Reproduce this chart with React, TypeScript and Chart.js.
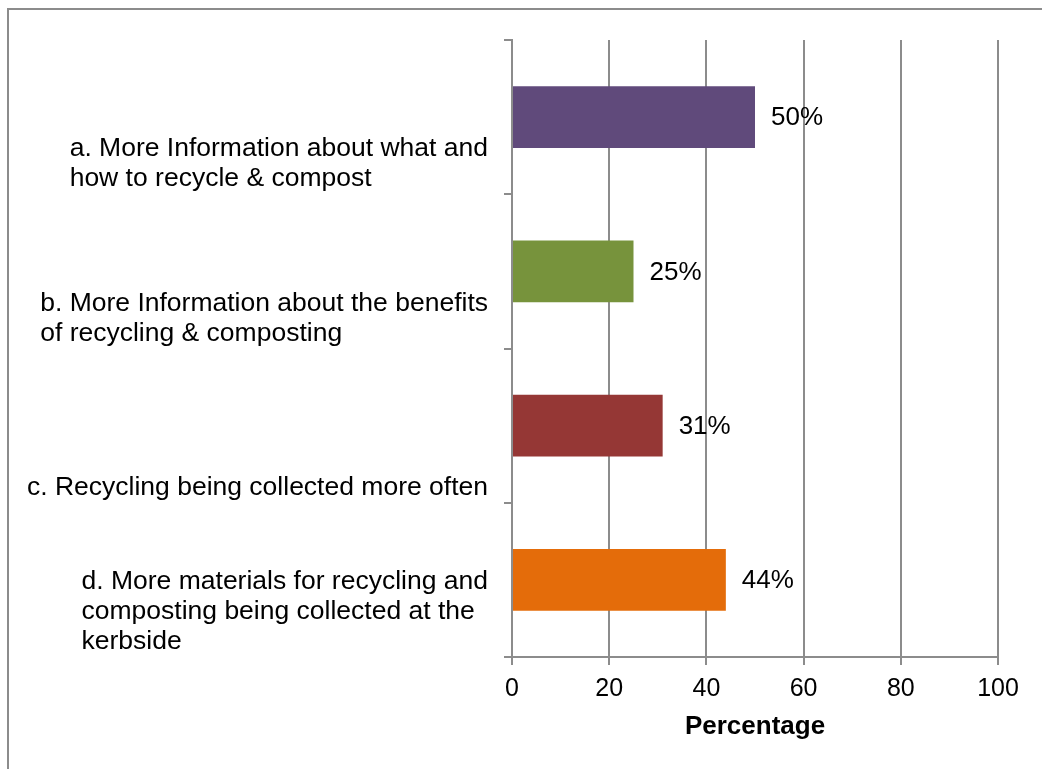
import React, { useEffect, useRef } from "react";
import { Chart, registerables } from "chart.js";

Chart.register(...registerables);

const categories: string[][] = [
  ["a. More Information about what and", "how to recycle & compost"],
  ["b. More Information about the benefits", "of recycling & composting"],
  ["c. Recycling being collected more often"],
  ["d. More materials for recycling and", "composting being collected at the", "kerbside"],
];
const values: number[] = [50, 25, 31, 44];
const barColors: string[] = ["#604A7B", "#77933C", "#953735", "#E46C0A"];
const xTicks: number[] = [0, 20, 40, 60, 80, 100];
const xTitle = "Percentage";

const FONT = "'Liberation Sans', Arial, sans-serif";
const GRID = "#8c8c8c";

const labelPlugin = {
  id: "customLabels",
  afterDraw(chart: any) {
    const ctx = chart.ctx;
    const y = chart.scales.y;
    const area = chart.chartArea;
    ctx.save();
    ctx.fillStyle = "#000";
    ctx.font = `26.5px ${FONT}`;
    ctx.textBaseline = "alphabetic";
    ctx.textAlign = "left";
    const labels = chart.data.labels as string[][];
    const half = (y.getPixelForValue(1) - y.getPixelForValue(0)) / 2;
    labels.forEach((lines, i) => {
      const bottom = y.getPixelForValue(i) + half;
      const maxW = Math.max(...lines.map((l) => ctx.measureText(l).width));
      const left = area.left - 24 - maxW;
      const lastBase = bottom - 8;
      lines.forEach((l, j) => {
        ctx.fillText(l, left, lastBase - 30 * (lines.length - 1 - j));
      });
    });
    // bar value labels
    ctx.font = `26px ${FONT}`;
    const meta = chart.getDatasetMeta(0);
    ctx.textBaseline = "middle";
    meta.data.forEach((bar: any, i: number) => {
      const v = chart.data.datasets[0].data[i];
      ctx.fillText(`${v}%`, bar.x + 16, bar.y + 1);
    });
    ctx.restore();
  },
};

export default function App() {
  const ref = useRef<HTMLCanvasElement>(null);
  useEffect(() => {
    if (!ref.current) return;
    const chart = new Chart(ref.current, {
      type: "bar",
      data: {
        labels: categories as any,
        datasets: [
          {
            data: values,
            backgroundColor: barColors,
            borderWidth: 0,
            categoryPercentage: 1,
            barPercentage: 0.4,
          },
        ],
      },
      options: {
        indexAxis: "y",
        animation: false,
        responsive: false,
        devicePixelRatio: 1,
        layout: { padding: { top: 40, right: 44, left: 0, bottom: 27 } },
        plugins: {
          legend: { display: false },
          tooltip: { enabled: false },
          title: { display: false },
        },
        scales: {
          x: {
            type: "linear",
            min: 0,
            max: 100,
            afterBuildTicks(scale: any) {
              scale.ticks = xTicks.map((v) => ({ value: v }));
            },
            afterFit(scale: any) {
              scale.height = 85;
            },
            grid: {
              color: GRID,
              lineWidth: 2,
              drawTicks: true,
              tickLength: 8,
            },
            border: { display: true, color: GRID, width: 2 },
            ticks: {
              color: "#000",
              font: { family: FONT, size: 25 },
              padding: 9,
              maxRotation: 0,
            },
            title: {
              display: true,
              text: xTitle,
              color: "#000",
              font: { family: FONT, size: 26, weight: "bold" },
              padding: { top: 4, bottom: 0 },
            },
          },
          y: {
            type: "category",
            offset: true,
            afterFit(scale: any) {
              scale.width = 512;
            },
            grid: {
              offset: true,
              drawOnChartArea: false,
              drawTicks: true,
              tickLength: 8,
              color: GRID,
              lineWidth: 2,
            },
            border: { display: true, color: GRID, width: 2 },
            ticks: { display: false },
          },
        },
      },
      plugins: [labelPlugin],
    });
    return () => chart.destroy();
  }, []);
  return (
    <div style={{ position: "absolute", left: 0, top: 0, width: 1042, height: 769, background: "#fff", overflow: "hidden" }}>
      <canvas ref={ref} width={1042} height={769} style={{ display: "block" }} />
      <div
        style={{
          position: "absolute",
          left: 7,
          top: 8,
          width: 1100,
          height: 800,
          borderTop: "2px solid #8c8c8c",
          borderLeft: "2px solid #8c8c8c",
          pointerEvents: "none",
        }}
      />
    </div>
  );
}
